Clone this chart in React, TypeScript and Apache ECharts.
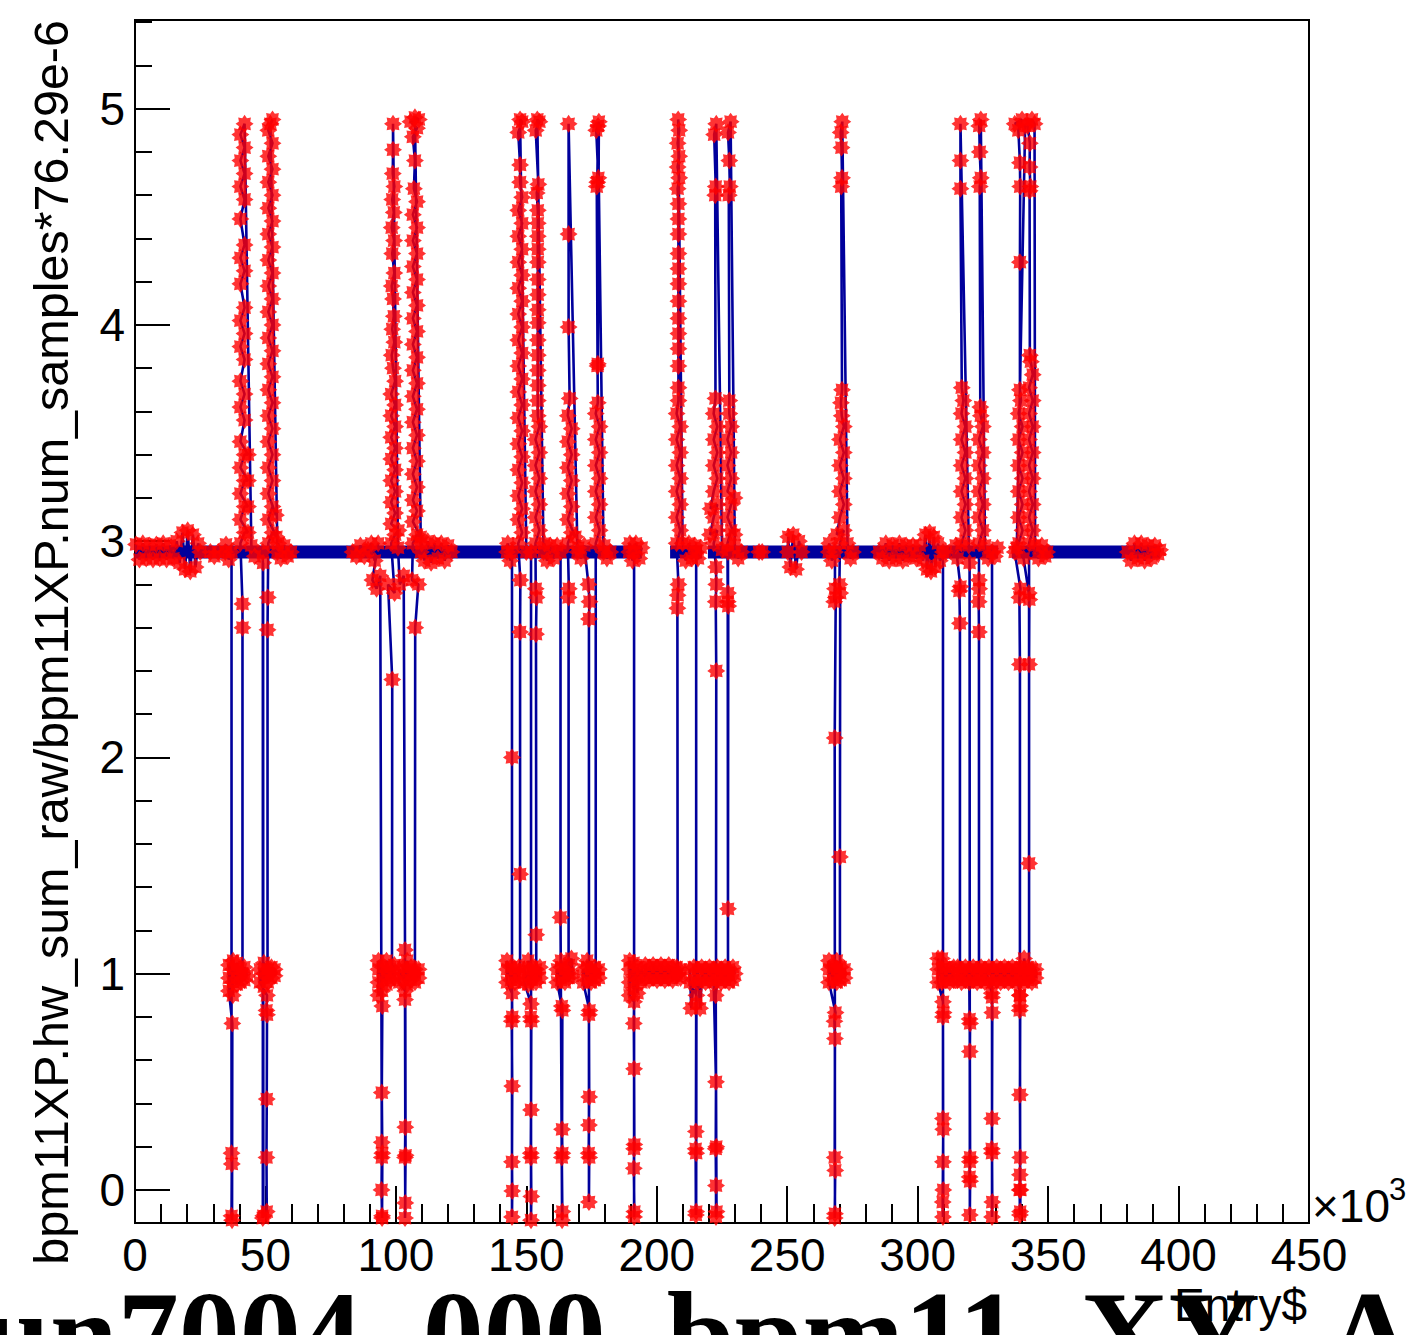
import React, { useEffect, useRef } from "react";
import * as echarts from "echarts";

const FONT = "Liberation Sans, Arial, Helvetica, sans-serif";
const BLUE = "#00009c";
const RED = "#ff0000";
const ASTERISK =
  "path://M20,10L16.28,12.6L17.07,17.07L12.6,16.28L10,20L7.4,16.28L2.93,17.07L3.72,12.6L0,10L3.72,7.4L2.93,2.93L7.4,3.72L10,0L12.6,3.72L17.07,2.93L16.28,7.4Z";

const xTickValues = [0, 50, 100, 150, 200, 250, 300, 350, 400, 450];
const yMajorTicks = [0, 1, 2, 3, 4, 5];
const yMinorTicks = [0.2, 0.4, 0.6, 0.8, 1.2, 1.4, 1.6, 1.8, 2.2, 2.4, 2.6, 2.8, 3.2, 3.4, 3.6, 3.8, 4.2, 4.4, 4.6, 4.8, 5.2, 5.4];
const yTitle = "bpm11XP.hw_sum_raw/bpm11XP.num_samples*76.29e-6";
const xTitle = "Entry$";
const plotTitleHead = "run7004_000_bpm11_XY_";
const plotTitleTail = "All";

// baseline band (blue) segments, x in 10^3 entries
const baselineLevel = 2.95;
const baselineStarts = [0, 205.1, 219.6, 336.1];
const baselineEnds = [194.3, 217.3, 330.8, 392.9];

// ---- entries, in order ----
const run0to25 = [[0.4,2.985],[1.7,2.915],[3.0,2.99],[4.3,2.92],[5.6,2.98],[6.9,2.915],[8.2,2.985],[9.5,2.92],[10.8,2.99],[12.1,2.915],[13.4,2.98],[14.7,2.92],[16.0,3.0],[17.1,2.9],[18.2,3.04],[19.2,2.87],[20.2,3.05],[21.2,2.86],[22.2,3.03],[23.2,2.88],[24.2,2.99],[25.0,2.95]];
const run29 = [[28.9,2.95],[30.4,2.93],[31.9,2.95]];
const burst37 = [[34.6,2.95],[34.9,2.985],[35.9,2.915],[37.0,2.95],
  [37.0,0.17],[37.1,0.12],[37.0,-0.12],[37.2,-0.14],[37.3,0.77],
  [36.0,0.92],[36.0,0.98],[36.0,1.04],[37.5,0.90],[37.5,0.96],[37.5,1.02],[37.6,1.06],[39.0,0.95],[39.0,1.01],[39.1,1.05],[40.5,0.96],[40.5,1.02],[41.9,0.97],[41.9,1.03],[43.0,0.99],[41.2,1.0],
  [41.2,2.60],[41.2,2.71]];
const spike41 = [[40.4,2.99],[42.0,3.04],[43.3,3.04],[40.4,3.10],[42.0,3.16],[43.3,3.16],[40.4,3.22],[42.0,3.28],[43.3,3.28],[40.4,3.34],[42.0,3.40],[43.3,3.40],[40.4,3.46],[42.0,3.56],[40.4,3.62],[42.0,3.68],[40.4,3.74],[42.0,3.84],[40.4,3.90],[42.0,3.96],[40.4,4.02],[42.0,4.08],[40.4,4.19],[42.0,4.25],[40.4,4.31],[42.0,4.37],[40.4,4.49],[42.0,4.58],[40.4,4.64],[42.0,4.70],[40.4,4.76],[42.0,4.82],[40.4,4.88],[42.0,4.93]];
const burst49 = [[44.6,2.98],[45.9,2.93],[49.0,2.95],
  [49.0,-0.13],[49.1,2.9],[49.2,-0.12],[50.5,-0.1],[50.4,0.15],[50.5,0.42],[50.6,0.81],[50.4,0.83],[50.6,0.90],
  [47.9,0.96],[47.9,1.02],[49.4,0.94],[49.4,1.00],[49.4,1.05],[50.9,0.96],[50.9,1.02],[52.3,0.98],[52.3,1.03],[53.5,0.99],[53.5,1.02],[50.8,1.0],
  [50.8,2.59],[50.9,2.74]];
const spike52 = [[51.1,2.99],[52.7,3.04],[54.2,3.02],[51.1,3.10],[52.7,3.16],[54.0,3.12],[51.1,3.22],[52.7,3.28],[51.1,3.34],[52.7,3.40],[51.1,3.46],[52.7,3.52],[51.1,3.58],[52.7,3.64],[51.1,3.70],[52.7,3.76],[51.1,3.82],[52.7,3.88],[51.1,3.94],[52.7,4.00],[51.1,4.06],[52.7,4.12],[51.1,4.18],[52.7,4.24],[51.1,4.30],[52.7,4.36],[51.1,4.42],[52.7,4.48],[51.1,4.54],[52.7,4.60],[51.1,4.66],[52.7,4.72],[51.1,4.78],[52.7,4.84],[51.1,4.90],[52.7,4.95],[51.9,4.93]];
const run55 = [[54.6,2.95],[54.9,2.99],[55.9,2.92],[57.2,2.98],[58.5,2.93],[59.8,2.95]];
const run84 = [[83.4,2.95],[84.9,2.93],[86.4,2.98],[87.9,2.93],[89.3,2.96]];
const burst95 = [[90.6,2.99],[91.9,2.91],[93.2,2.99],[91.0,2.82],[92.6,2.78],[94.0,2.84],
  [94.6,0.22],[94.7,-0.13],[94.5,0.0],[94.6,0.15],[94.7,-0.12],[94.8,0.17],[94.6,0.45],[94.8,0.85],[94.7,0.92],
  [93.3,0.90],[93.3,0.96],[93.3,1.02],[93.3,1.06],[94.9,0.97],[94.9,1.03],[96.4,0.95],[96.4,1.01],[96.4,1.06],[97.9,0.97],[97.9,1.03],[99.4,0.98],[99.4,1.04],[98.5,1.0],
  [98.6,2.36],[97.0,2.80],[99.5,2.76]];
const spike99 = [[98.2,2.99],[99.7,3.03],[101.0,3.05],[98.2,3.08],[99.7,3.13],[98.2,3.18],[99.7,3.23],[98.2,3.28],[99.7,3.33],[98.2,3.38],[99.7,3.43],[98.2,3.48],[99.7,3.53],[98.2,3.58],[99.7,3.63],[98.2,3.68],[99.7,3.74],[98.9,3.80],[98.4,3.86],[99.4,3.92],[98.6,3.98],[99.2,4.04],[98.9,4.12],[98.4,4.18],[99.4,4.24],[98.6,4.33],[99.3,4.39],[98.4,4.45],[99.2,4.52],[98.6,4.58],[99.4,4.64],[98.8,4.70],[98.9,4.81],[98.9,4.93]];
const burst104 = [[100.8,2.97],[101.5,2.80],[103.0,2.84],
  [103.5,1.11],[103.5,0.88],[103.6,0.29],[103.5,0.15],[103.6,-0.06],[103.5,-0.13],[103.7,0.16],[103.6,0.92],
  [101.3,0.96],[101.3,1.02],[102.8,0.97],[102.8,1.03],[104.3,0.95],[104.3,1.01],[104.3,1.06],[105.8,0.97],[105.8,1.03],[107.3,0.96],[107.3,1.02],[108.7,0.98],[108.7,1.02],[107.3,1.0],
  [107.4,2.60],[108.6,2.80],[106.2,2.82]];
const spike107 = [[106.5,2.99],[108.1,3.03],[109.5,3.02],[106.5,3.09],[108.1,3.14],[106.5,3.19],[108.1,3.25],[106.5,3.31],[108.1,3.37],[106.5,3.43],[108.1,3.49],[106.5,3.55],[108.1,3.61],[106.5,3.67],[108.1,3.73],[106.5,3.79],[108.1,3.85],[106.5,3.91],[108.1,3.97],[106.5,4.03],[108.1,4.09],[106.5,4.15],[108.1,4.21],[106.5,4.27],[108.1,4.33],[106.5,4.39],[108.1,4.45],[106.5,4.51],[108.1,4.57],[106.9,4.63],[107.3,4.76],[106.5,4.87],[108.1,4.91],[105.6,4.94],[108.8,4.95],[107.3,4.96]];
const run110 = [[109.6,2.95],[109.9,2.99],[110.9,2.91],[112.2,3.0],[113.5,2.9],[114.8,2.99],[116.1,2.92],[117.4,2.99],[118.7,2.91],[120.0,2.98],[121.3,2.95]];
const burst145 = [[142.6,2.95],[142.9,2.99],[143.8,2.91],[144.5,2.95],[144.5,2.0],
  [144.5,-0.125],[144.6,-0.005],[144.5,0.13],[144.6,0.48],[144.4,0.78],[144.6,0.80],[144.5,0.91],
  [142.6,0.96],[142.6,1.02],[142.6,1.06],[144.1,0.97],[144.1,1.03],[145.6,0.96],[145.6,1.02],[147.1,0.97],[147.1,1.03],[147.6,1.0],
  [147.6,1.46],[147.6,2.58],[147.7,2.82]];
const spike148 = [[146.9,2.99],[148.4,3.04],[146.9,3.10],[148.4,3.15],[146.9,3.21],[148.4,3.27],[146.9,3.33],[148.4,3.39],[146.9,3.45],[148.4,3.51],[146.9,3.57],[148.4,3.63],[146.9,3.69],[148.4,3.75],[146.9,3.81],[148.4,3.87],[146.9,3.93],[148.4,3.99],[146.9,4.05],[148.4,4.11],[146.9,4.17],[148.4,4.23],[146.9,4.29],[148.4,4.35],[146.9,4.41],[148.4,4.47],[146.9,4.53],[148.4,4.59],[147.6,4.66],[147.6,4.74],[146.9,4.89],[148.4,4.94],[147.6,4.95]];
const burst152 = [[150.0,2.95],[151.8,2.95],
  [151.8,-0.14],[151.9,-0.03],[151.8,0.15],[151.7,0.17],[151.8,0.37],[151.9,0.78],[151.7,0.80],[151.8,0.86],
  [149.2,0.96],[149.2,1.02],[150.7,0.95],[150.7,1.01],[150.7,1.06],[152.2,0.97],[152.2,1.03],[153.7,0.96],[153.7,1.02],[155.2,0.98],[155.2,1.03],[153.8,1.0],
  [153.8,1.18],[153.7,2.57],[153.9,2.74],[153.6,2.78]];
const spike154 = [[153.5,2.99],[155.0,3.05],[153.5,3.11],[155.0,3.17],[153.5,3.23],[155.0,3.29],[153.5,3.35],[155.0,3.41],[153.5,3.47],[155.0,3.53],[154.4,3.58],[154.4,3.65],[154.4,3.72],[154.4,3.79],[154.4,3.86],[154.4,3.93],[154.4,4.01],[154.4,4.07],[154.4,4.14],[154.4,4.21],[154.4,4.29],[154.4,4.35],[154.4,4.41],[154.4,4.47],[154.4,4.53],[154.0,4.61],[154.6,4.65],[153.6,4.90],[155.0,4.94],[154.2,4.95]];
const burst164 = [[156.6,2.95],[156.9,2.99],[157.9,2.91],[159.2,2.98],[160.5,2.92],[161.8,2.98],[163.1,2.95],
  [163.1,1.26],[163.7,-0.14],[163.8,-0.1],[163.6,0.15],[163.8,0.17],[163.7,0.28],[163.8,0.83],[163.6,0.85],
  [161.8,0.96],[161.8,1.02],[163.3,0.97],[163.3,1.03],[163.3,1.06],[164.8,0.96],[164.8,1.02],[166.3,0.98],[166.3,1.04],[167.8,0.99],[167.3,1.07],[166.2,1.0],
  [166.2,2.74],[166.3,2.78]];
const spike166 = [[165.9,2.99],[167.4,3.04],[168.8,3.02],[165.9,3.10],[167.4,3.16],[165.9,3.22],[167.4,3.28],[165.9,3.34],[167.4,3.40],[165.9,3.46],[167.4,3.52],[165.9,3.58],[166.6,3.66],[166.2,3.99],[166.2,4.42],[166.2,4.93]];
const burst174 = [[169.6,2.95],[169.9,2.97],[170.9,2.92],[172.2,2.98],
  [173.8,2.80],[174.2,2.72],[174.0,2.64],[174.0,-0.056],[174.1,0.15],[173.9,0.17],[174.0,0.30],[174.1,0.43],[174.0,0.81],[174.2,0.83],
  [171.8,0.96],[171.8,1.02],[173.3,0.97],[173.3,1.03],[173.3,1.06],[174.8,0.96],[174.8,1.02],[176.3,0.97],[176.3,1.03],[177.8,0.98],[177.8,1.02],[176.6,1.0]];
const spike177 = [[176.6,2.99],[178.1,3.05],[176.6,3.11],[178.1,3.17],[176.6,3.23],[178.1,3.29],[176.6,3.35],[178.1,3.41],[176.6,3.47],[178.1,3.53],[176.6,3.59],[177.4,3.64],[177.3,3.81],[177.0,4.64],[177.6,4.68],[176.8,4.90],[177.8,4.94],[177.4,3.82],[177.2,4.66],[177.5,4.92]];
const run180 = [[179.6,2.95],[179.9,2.98],[180.9,2.92],[182.2,2.95]];
const burst191 = [[189.4,2.95],[189.7,2.99],[190.7,2.91],[192.0,2.99],[193.3,2.92],[194.2,2.97],[191.3,2.95],
  [191.3,-0.125],[191.4,-0.1],[191.2,0.10],[191.3,0.19],[191.4,0.21],[191.3,0.56],[191.2,0.77],[191.3,0.87],
  [189.6,0.90],[189.6,0.96],[189.6,1.02],[189.6,1.06],[191.1,0.93],[191.1,0.99],[191.1,1.05],[192.6,0.91],[192.6,0.97],[192.6,1.03],[194.1,0.96],[194.1,1.02],[195.6,0.98],[195.6,1.04],[197.1,0.97],[197.1,1.03],[198.6,0.98],[198.6,1.04],[200.1,0.97],[200.1,1.03],[201.6,0.98],[201.6,1.04],[203.1,0.97],[203.1,1.03],[204.6,0.98],[204.6,1.04],[206.1,0.97],[206.1,1.03],[207.6,0.99],[207.6,1.03],[209.1,0.98],[209.1,1.02],[208.0,1.0]];
const spike208 = [[207.9,2.69],[208.0,2.75],[208.3,2.80],[207.6,2.99],[209.0,3.05],[207.6,3.11],[209.0,3.17],[207.6,3.23],[209.0,3.29],[207.6,3.35],[209.0,3.41],[207.6,3.47],[209.0,3.53],[207.6,3.59],[208.3,3.65],[208.3,3.71],[208.3,3.81],[208.3,3.89],[208.3,3.96],[208.3,4.03],[208.3,4.11],[208.3,4.19],[208.3,4.26],[208.3,4.33],[208.3,4.42],[208.3,4.49],[208.3,4.56],[208.0,4.63],[208.6,4.68],[208.0,4.73],[208.6,4.78],[208.0,4.84],[208.6,4.90],[208.2,4.95]];
const burst215 = [[209.9,2.99],[211.1,2.91],[212.3,2.99],[213.5,2.92],[214.6,2.98],[215.8,2.92],[216.9,2.97],[215.1,2.95],
  [215.1,0.86],[215.0,0.27],[215.1,0.17],[214.9,0.19],[215.0,-0.116],[215.1,-0.1],[215.2,0.9],
  [212.7,0.96],[212.7,1.02],[213.2,0.84],[214.2,0.97],[214.2,1.03],[215.7,0.96],[215.7,1.02],[216.6,0.84],[217.2,0.97],[217.2,1.03],[218.7,0.96],[218.7,1.02],[220.2,0.97],[220.2,1.03],[221.7,0.96],[221.7,1.02],
  [222.7,0.50],[222.6,0.19],[222.7,0.02],[222.7,-0.125],[222.9,-0.1],[222.8,0.2],[222.6,0.9],
  [223.2,0.97],[223.2,1.03],[224.7,0.96],[224.7,1.02],[226.2,0.97],[226.2,1.03],[227.7,0.96],[227.7,1.02],[229.2,0.97],[229.2,1.03],[229.9,1.0],[222.7,1.0],
  [222.8,2.40],[222.6,2.72],[222.8,2.80],[222.7,2.88]];
const spike222 = [[221.8,2.99],[223.2,3.05],[220.4,3.03],[221.8,3.11],[223.2,3.17],[220.6,3.15],[221.8,3.23],[223.2,3.29],[221.8,3.35],[223.2,3.41],[221.8,3.47],[223.2,3.53],[221.8,3.59],[222.5,3.66],[222.4,4.60],[222.6,4.64],[222.0,4.88],[222.8,4.93]];
const dip227 = [[225.0,2.96],[227.3,2.95],[227.3,2.76],[227.4,2.70],[227.3,1.30],[227.3,1.0],[227.2,2.72]];
const spike228 = [[227.1,2.99],[228.5,3.05],[229.8,3.03],[227.1,3.11],[228.5,3.17],[229.8,3.2],[227.1,3.23],[228.5,3.29],[227.1,3.35],[228.5,3.41],[227.1,3.47],[228.5,3.53],[227.8,3.59],[227.8,3.65],[227.6,4.60],[228.0,4.64],[227.8,4.76],[227.3,4.89],[228.3,4.94]];
const run230 = [[229.9,2.98],[231.2,2.92],[232.5,2.95]];
const run240 = [[239.2,2.95],[240.4,2.95]];
const run250 = [[250.2,2.95],[250.4,3.02],[251.2,2.88],[252.3,3.03],[253.4,2.87],[254.5,3.0],[255.5,2.95]];
const burst268 = [[265.9,2.95],[266.1,2.99],[267.1,2.91],[268.3,2.95],
  [268.3,2.78],[268.0,2.72],[268.6,2.74],[268.2,2.09],[268.3,-0.11],[268.2,-0.13],[268.4,0.09],[268.2,0.15],[268.3,0.70],[268.1,0.78],[268.5,0.82],
  [266.0,0.96],[266.0,1.02],[266.0,1.06],[267.5,0.97],[267.5,1.03],[269.0,0.96],[269.0,1.02],[269.0,1.06],[270.5,0.97],[270.5,1.03],[272.0,0.98],[272.0,1.02],[270.2,1.0],
  [270.2,1.54],[270.3,2.76],[270.0,2.80]];
const spike271 = [[270.2,2.99],[271.7,3.05],[269.0,3.03],[270.2,3.11],[271.7,3.17],[270.2,3.23],[271.7,3.29],[270.2,3.35],[271.7,3.41],[270.2,3.47],[271.7,3.53],[270.9,3.58],[270.6,3.64],[271.0,3.70],[270.7,4.64],[271.0,4.68],[270.8,4.82],[270.5,4.89],[271.1,4.94]];
const run273 = [[273.1,2.99],[274.3,2.92],[275.2,2.95]];
const run285to311 = [[285.2,2.95],[286.5,2.92],[287.8,2.99],[289.1,2.91],[290.4,2.98],[291.7,2.92],[293.0,2.99],[294.3,2.91],[295.6,2.98],[296.9,2.93],[298.2,2.98],[299.5,2.92],[300.8,2.98],[302.1,2.91],[303.0,3.03],[303.6,2.87],[304.6,3.04],[305.1,2.86],[306.2,3.02],[306.7,2.88],[307.8,2.99],[308.5,2.91],[310.8,2.95],[309.7,2.95]];
const burst310 = [[309.7,0.33],[309.8,0.28],[309.7,0.13],[309.6,-0.056],[309.7,-0.125],[309.8,0.0],[309.7,0.80],[309.9,0.82],[309.7,0.87],
  [307.8,0.96],[307.8,1.02],[307.8,1.07],[309.3,0.96],[309.3,1.02],[309.3,1.07],[310.8,0.97],[310.8,1.03],[312.3,0.96],[312.3,1.02],[313.8,0.97],[313.8,1.03],[316.2,1.0],
  [316.2,2.62],[316.0,2.77],[316.4,2.79]];
const spike317 = [[314.6,2.98],[315.3,2.92],[316.8,2.99],[318.3,3.05],[316.8,3.11],[318.3,3.17],[316.8,3.23],[318.3,3.29],[316.8,3.35],[318.3,3.41],[316.8,3.47],[318.3,3.53],[316.8,3.59],[317.5,3.65],[316.9,3.71],[316.4,4.63],[316.4,4.76],[316.4,4.93]];
const burst320 = [[319.6,2.98],[319.9,2.90],
  [320.0,-0.116],[320.1,0.04],[319.9,0.06],[320.0,0.13],[320.1,0.15],[320.0,0.64],[320.1,0.77],[319.9,0.79],
  [319.8,0.96],[318.3,1.03],[316.8,0.96],[315.3,1.03],[315.3,0.97],[316.8,1.02],[318.3,0.97],[319.8,1.02],[321.3,0.97],[321.3,1.03],[322.8,0.96],[322.8,1.02],[323.5,1.0],
  [323.5,2.58],[323.4,2.72],[323.6,2.78],[323.5,2.82]];
const spike324 = [[323.5,2.99],[325.0,3.05],[323.5,3.11],[325.0,3.17],[323.5,3.23],[325.0,3.29],[323.5,3.35],[325.0,3.41],[323.5,3.47],[325.0,3.53],[324.2,3.58],[324.0,3.62],[323.8,4.64],[324.2,4.68],[323.8,4.80],[323.6,4.92],[324.2,4.95]];
const burst328 = [[325.8,2.98],[327.0,2.92],[329.6,2.93],[330.6,2.97],[328.5,2.95],
  [328.5,-0.125],[328.6,-0.056],[328.5,0.17],[328.4,0.19],[328.5,0.33],[328.6,0.82],[328.5,0.89],[328.4,0.91],
  [327.3,0.97],[325.8,1.02],[324.3,0.97],[324.3,1.03],[325.8,0.96],[327.3,1.03],[328.8,0.96],[328.8,1.02],[330.3,0.97],[330.3,1.03],[331.8,0.96],[331.8,1.02],[333.3,0.97],[333.3,1.03],[334.8,0.96],[334.8,1.02],[336.3,0.97],[336.3,1.03],[337.8,0.96],[337.8,1.02],[339.2,0.9],
  [339.1,0.83],[339.3,0.85],[339.2,0.44],[339.3,0.15],[339.2,0.07],[339.1,0.0],[339.2,-0.116],[339.4,0.0],[339.3,-0.1],[339.2,0.9],
  [339.3,0.97],[339.3,1.03],[340.8,0.96],[340.8,1.02],[340.8,1.07],[342.3,0.97],[342.3,1.03],[343.8,0.96],[343.8,1.02],[345.2,0.98],[345.2,1.02],[339.2,1.0],
  [339.2,2.43],[339.0,2.74],[339.4,2.78],[337.2,2.95]];
const spike339 = [[338.7,2.99],[340.2,3.05],[338.7,3.11],[340.2,3.17],[338.7,3.23],[340.2,3.29],[338.7,3.35],[340.2,3.41],[338.7,3.47],[340.2,3.53],[338.7,3.59],[339.6,3.65],[339.2,3.70],[339.2,4.29],[339.3,4.64],[339.2,4.75],[338.6,4.90],[340.0,4.95],[337.2,4.93],[341.2,4.92]];
const dip343 = [[338.0,2.97],[340.6,2.92],[342.6,2.76],[342.8,2.73],[342.7,2.43],[342.7,1.51],[342.7,1.0]];
const spike343 = [[342.7,2.99],[344.1,3.05],[342.7,3.11],[344.1,3.17],[342.7,3.23],[344.1,3.29],[342.7,3.35],[344.1,3.41],[342.7,3.47],[344.1,3.53],[342.7,3.59],[344.1,3.65],[342.7,3.71],[344.1,3.77],[343.4,3.83],[343.0,3.86],[342.9,4.62],[343.2,4.64],[342.9,4.73],[343.0,4.84],[342.2,4.92],[343.8,4.95],[344.8,4.93]];
const run345 = [[345.0,2.98],[346.3,2.92],[347.6,2.98],[348.9,2.93],[349.6,2.95]];
const run380to393 = [[380.5,2.95],[381.8,2.91],[383.1,2.99],[384.4,2.92],[385.7,2.99],[387.0,2.91],[388.3,2.98],[389.6,2.92],[390.9,2.98],[392.2,2.94],[392.9,2.96]];

const entries = [
  ...run0to25, ...run29, ...burst37, ...spike41, ...burst49, ...spike52, ...run55,
  ...run84, ...burst95, ...spike99, ...burst104, ...spike107, ...run110,
  ...burst145, ...spike148, ...burst152, ...spike154, ...burst164, ...spike166, ...burst174, ...spike177, ...run180,
  ...burst191, ...spike208, ...burst215, ...spike222, ...dip227, ...spike228, ...run230,
  ...run240, ...run250, ...burst268, ...spike271, ...run273,
  ...run285to311, ...burst310, ...spike317, ...burst320, ...spike324, ...burst328, ...spike339, ...dip343, ...spike343, ...run345,
  ...run380to393,
];

export default function App() {
  const ref = useRef<HTMLDivElement>(null);
  useEffect(() => {
    if (!ref.current) return;
    const chart = echarts.init(ref.current, null, { renderer: "svg" });
    const axisLine = { color: "#000", width: 2 };
    const bandSeries = baselineStarts.map((s, i) => ({
      type: "line",
      data: [[s, baselineLevel], [baselineEnds[i], baselineLevel]],
      symbol: "none",
      lineStyle: { color: BLUE, width: 13, cap: "butt" },
      z: 1,
      silent: true,
    }));
    const titleStyle = { fontSize: 122, fontWeight: "bold", fontFamily: "Liberation Serif, Times New Roman, serif", fill: "#000", align: "left", verticalAlign: "middle", textAlign: "left", textVerticalAlign: "middle" };
    chart.setOption({
      animation: false,
      backgroundColor: "#fff",
      grid: { left: 135, top: 20, width: 1174, height: 1203, show: true, borderColor: "#000", borderWidth: 2, backgroundColor: "transparent" },
      xAxis: {
        type: "value", min: 0, max: 450, interval: 50,
        axisLine: { show: true, onZero: false, lineStyle: axisLine },
        axisTick: { show: true, inside: true, length: 37, lineStyle: axisLine },
        minorTick: { show: true, splitNumber: 5, length: 19, lineStyle: axisLine },
        splitLine: { show: false },
        minorSplitLine: { show: false },
        axisLabel: { customValues: xTickValues, fontSize: 46, color: "#000", fontFamily: FONT, margin: 9 },
      },
      yAxis: [
        {
          type: "value", min: -0.153, max: 5.41,
          axisLine: { show: true, onZero: false, lineStyle: axisLine },
          axisTick: { show: true, inside: true, length: 35, customValues: yMajorTicks, lineStyle: axisLine },
          axisLabel: { customValues: yMajorTicks, fontSize: 46, color: "#000", fontFamily: FONT, margin: 10 },
          splitLine: { show: false },
        },
        {
          type: "value", min: -0.153, max: 5.41, position: "left",
          axisLine: { show: false },
          axisTick: { show: true, inside: true, length: 17, customValues: yMinorTicks, lineStyle: axisLine },
          axisLabel: { show: false },
          splitLine: { show: false },
        },
      ],
      series: [
        ...bandSeries,
        {
          type: "line", data: entries, symbol: "none",
          lineStyle: { color: BLUE, width: 2.6 }, z: 2, silent: true,
        },
        {
          type: "scatter", data: entries, symbol: ASTERISK, symbolSize: 18,
          itemStyle: { color: RED }, z: 3, silent: true,
        },
      ],
      graphic: [
        {
          type: "text", x: 51, y: 20, rotation: Math.PI / 2,
          style: { text: yTitle, fontSize: 48.5, fontFamily: FONT, fill: "#000", align: "right", verticalAlign: "middle", textAlign: "right", textVerticalAlign: "middle" },
        },
        {
          type: "text", x: -72, y: 1334, z: 0,
          style: { ...titleStyle, text: plotTitleHead },
        },
        {
          type: "text", x: 1326, y: 1334, z: 0,
          style: { ...titleStyle, text: plotTitleTail },
        },
        {
          type: "text", x: 1307, y: 1305,
          style: { text: xTitle, fontSize: 46, fontFamily: FONT, fill: "#000", align: "right", verticalAlign: "middle", textAlign: "right", textVerticalAlign: "middle" },
        },
        {
          type: "text", x: 1312, y: 1206,
          style: { text: "×10", fontSize: 46, fontFamily: FONT, fill: "#000", align: "left", verticalAlign: "middle", textAlign: "left", textVerticalAlign: "middle" },
        },
        {
          type: "text", x: 1389, y: 1189,
          style: { text: "3", fontSize: 31, fontFamily: FONT, fill: "#000", align: "left", verticalAlign: "middle", textAlign: "left", textVerticalAlign: "middle" },
        },
      ],
    });
    return () => chart.dispose();
  }, []);
  return (
    <div
      ref={ref}
      style={{ position: "absolute", left: 0, top: 0, width: 1413, height: 1335, background: "#fff" }}
    />
  );
}
